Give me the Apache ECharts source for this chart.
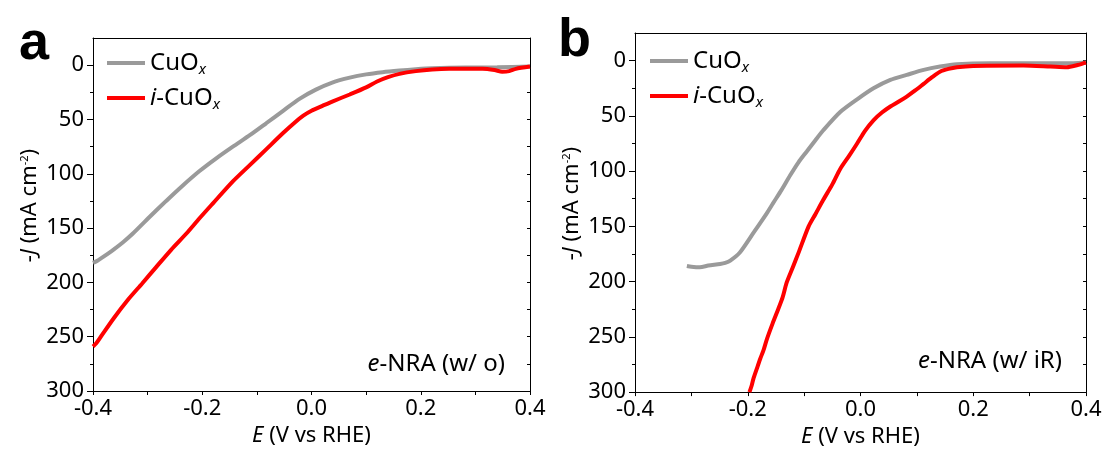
<!DOCTYPE html>
<html>
<head>
<meta charset="utf-8">
<script src="https://cdn.jsdelivr.net/npm/echarts@6/dist/echarts.min.js"></script>
<style>html,body{margin:0;padding:0;background:#fff}#c{width:1107px;height:453px}</style>
</head>
<body>
<div id="c"></div>
<script>
// ---- data ----
const xTickLabels = [-0.4, -0.2, 0, 0.2, 0.4];
const yMajorTicks = [0, 50, 100, 150, 200, 250, 300];
const yMinorTicks = [25, 75, 125, 175, 225, 275];
const yAllTicks = [0, 25, 50, 75, 100, 125, 150, 175, 200, 225, 250, 275];

// panel a (without iR correction)
const eA_cuox = [-0.400,-0.392,-0.380,-0.363,-0.345,-0.327,-0.297,-0.266,-0.236,-0.205,-0.175,-0.144,-0.113,-0.083,-0.052,-0.022,0.008,0.038,0.070,0.100,0.130,0.161,0.191,0.221,0.282,0.340,0.400];
const jA_cuox = [182,180,176,170,163,155,140,125,111,97.5,86,75,64.5,53.5,42,31,22.5,16,11.5,8.5,6.5,5,3.8,2.9,2.2,2.0,1.3];
const eA_icuox = [-0.400,-0.394,-0.388,-0.362,-0.336,-0.310,-0.284,-0.257,-0.229,-0.205,-0.180,-0.144,-0.113,-0.083,-0.052,-0.030,-0.015,0.000,0.020,0.038,0.070,0.100,0.120,0.140,0.161,0.191,0.221,0.252,0.313,0.335,0.349,0.362,0.374,0.400];
const jA_icuox = [259,256,251.7,233,216,201,185.7,170,155,141,127,107,92,77.5,62.5,52.5,46.5,42,37.5,33.5,27,20.5,15,11,8,5.5,4,3.4,3.4,4.5,6,5.5,3.4,1.3];

// panel b (with iR correction)
const eB_cuox = [-0.308,-0.300,-0.285,-0.270,-0.249,-0.240,-0.231,-0.214,-0.190,-0.166,-0.155,-0.140,-0.125,-0.110,-0.095,-0.080,-0.066,-0.036,-0.006,0.023,0.053,0.082,0.112,0.141,0.171,0.230,0.319,0.378,0.400];
const jB_cuox = [185.8,186.5,187,185.5,184,183,181,173.7,156,138,129,117,104,92,82,72,63,46.5,35,25,17.4,12.9,8.4,5.4,3.3,2.4,2.4,2.4,1.8];
const eB_icuox = [-0.197,-0.193,-0.190,-0.184,-0.178,-0.172,-0.166,-0.156,-0.146,-0.138,-0.131,-0.120,-0.110,-0.092,-0.080,-0.066,-0.050,-0.036,-0.020,-0.006,0.008,0.023,0.038,0.053,0.068,0.082,0.097,0.112,0.127,0.141,0.156,0.171,0.200,0.289,0.337,0.366,0.385,0.400];
const jB_icuox = [300,294,288,279,270,262,252,238,225,214,201,187,174,150,139,126,112,98,86,75,63.5,54,47,41.5,37,32.5,27,21,15,10,7.5,6,4.8,4.5,5.4,6,4,1.8];

const zip = (a, b) => a.map((v, i) => [v, b[i]]);

const FONT = 'Noto Sans';
const BLACK = '#000';
const GRAY = '#9a9a9a';
const RED = '#ff0000';

function xAxes(g) {
  return [{
    gridIndex: g, type: 'value', min: -0.4, max: 0.4, interval: 0.1, position: 'bottom',
    axisLine: {show: true, onZero: false, lineStyle: {color: BLACK, width: 1}},
    axisTick: {show: true, inside: false, length: 4, lineStyle: {color: BLACK, width: 1}},
    axisLabel: {customValues: xTickLabels, formatter: v => v.toFixed(1), fontSize: 22, color: BLACK, fontFamily: FONT, margin: 7},
    splitLine: {show: false},
    name: '{i|E}{n| (V vs RHE)}', nameLocation: 'middle', nameGap: 33,
    nameTextStyle: {rich: {
      i: {fontSize: 22, fontStyle: 'italic', fontFamily: FONT, color: BLACK},
      n: {fontSize: 22, fontFamily: FONT, color: BLACK}
    }}
  }, {
    gridIndex: g, type: 'value', min: -0.4, max: 0.4, interval: 0.1, position: 'top',
    axisLine: {show: true, onZero: false, lineStyle: {color: BLACK, width: 1}},
    axisTick: {show: false}, axisLabel: {show: false}, splitLine: {show: false}
  }];
}

function yAxes(g) {
  const base = {gridIndex: g, type: 'value', inverse: true, min: -25, max: 300, interval: 25, splitLine: {show: false}};
  return [Object.assign({}, base, {
    position: 'left',
    axisLine: {show: true, onZero: false, lineStyle: {color: BLACK, width: 1}},
    axisTick: {show: true, customValues: yMajorTicks, length: 6, lineStyle: {color: BLACK, width: 1}},
    axisLabel: {customValues: yMajorTicks, fontSize: 22, color: BLACK, fontFamily: FONT, margin: 9},
    name: '{n|-}{i|J}{n| (mA cm}{s|-2}{n|)}', nameLocation: 'middle', nameGap: 52, nameRotate: 90,
    nameTextStyle: {padding: [0, 0, 0, 18], rich: {
      i: {fontSize: 22, fontStyle: 'italic', fontFamily: FONT, color: BLACK},
      n: {fontSize: 22, fontFamily: FONT, color: BLACK},
      s: {fontSize: 11, fontFamily: FONT, color: BLACK, verticalAlign: 'top'}
    }}
  }), Object.assign({}, base, {
    position: 'left',
    axisLine: {show: false, onZero: false},
    axisTick: {show: true, customValues: yMinorTicks, length: 3, lineStyle: {color: BLACK, width: 1}},
    axisLabel: {show: false}
  }), Object.assign({}, base, {
    position: 'right',
    axisLine: {show: true, onZero: false, lineStyle: {color: BLACK, width: 1}},
    axisTick: {show: true, inside: true, customValues: yAllTicks, length: 3, lineStyle: {color: BLACK, width: 1}},
    axisLabel: {show: false}
  })];
}

function lineSeries(name, color, xi, yi, data) {
  return {
    name: name, type: 'line', xAxisIndex: xi, yAxisIndex: yi, data: data,
    showSymbol: false, symbol: 'none', smooth: 0.25, color: color,
    lineStyle: {color: color, width: 4}, clip: true, animation: false
  };
}

const legendRich = {
  n: {fontSize: 24, fontFamily: FONT, color: BLACK, lineHeight: 28},
  i: {fontSize: 24, fontFamily: FONT, fontStyle: 'italic', color: BLACK, lineHeight: 28},
  s: {fontSize: 15, fontFamily: FONT, fontStyle: 'italic', color: BLACK, lineHeight: 28, verticalAlign: 'bottom', padding: [6, 0, 0, 0]}
};
const legendFmt = n => n === 'CuOx' ? '{n|CuO}{s|x}' : '{i|i}{n|-CuO}{s|x}';

function legend(left, top) {
  return {
    data: [{name: 'CuOx', icon: 'rect'}, {name: 'i-CuOx', icon: 'rect'}],
    orient: 'vertical', left: left, top: top, padding: 0,
    itemWidth: 38, itemHeight: 4, itemGap: 7,
    formatter: legendFmt, textStyle: {rich: legendRich, lineHeight: 28},
    selectedMode: false
  };
}

const annRich = {
  i: {fontSize: 24, fontStyle: 'italic', fontWeight: 'normal', fontFamily: FONT, color: BLACK, lineHeight: 30},
  n: {fontSize: 24, fontWeight: 'normal', fontFamily: FONT, color: BLACK, lineHeight: 30}
};

const option = {
  animation: false,
  backgroundColor: '#fff',
  grid: [
    {left: 93, top: 38, width: 437, height: 353},
    {left: 635, top: 33, width: 451, height: 360}
  ],
  xAxis: xAxes(0).concat(xAxes(1)),
  yAxis: yAxes(0).concat(yAxes(1)),
  legend: [legend(107, 49), legend(650, 47)],
  title: [
    {text: 'a', left: 19, top: 17, padding: 0, textStyle: {fontSize: 54, lineHeight: 54, fontWeight: 'bold', fontFamily: 'Liberation Sans', color: BLACK}},
    {text: 'b', left: 558, top: 14, padding: 0, textStyle: {fontSize: 54, lineHeight: 54, fontWeight: 'bold', fontFamily: 'Liberation Sans', color: BLACK}},
    {text: '{i|e}{n|-NRA (w/ o)}', right: 602, top: 349, padding: 0, textStyle: {fontWeight: 'normal', rich: annRich}},
    {text: '{i|e}{n|-NRA (w/ iR)}', right: 45, top: 346, padding: 0, textStyle: {fontWeight: 'normal', rich: annRich}}
  ],
  series: [
    lineSeries('CuOx', GRAY, 0, 0, zip(eA_cuox, jA_cuox)),
    lineSeries('i-CuOx', RED, 0, 0, zip(eA_icuox, jA_icuox)),
    lineSeries('CuOx', GRAY, 2, 3, zip(eB_cuox, jB_cuox)),
    lineSeries('i-CuOx', RED, 2, 3, zip(eB_icuox, jB_icuox))
  ]
};

const chart = echarts.init(document.getElementById('c'), null, {renderer: 'canvas'});
chart.setOption(option);
</script>
</body>
</html>
